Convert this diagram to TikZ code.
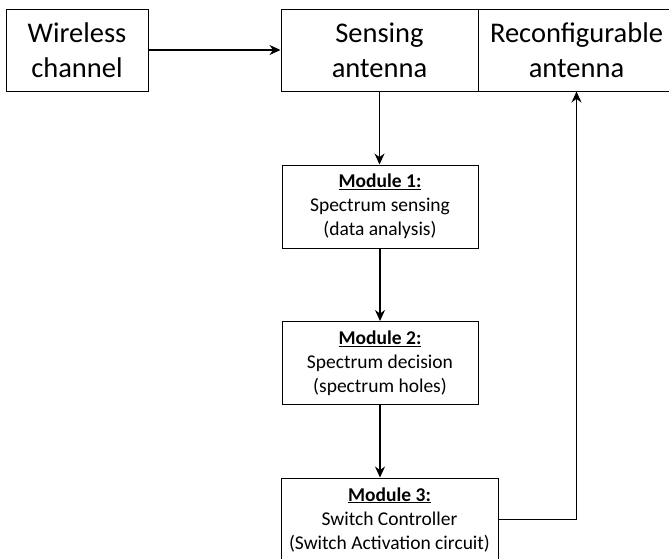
\documentclass[tikz,border=0pt]{standalone}
\usepackage{fontspec}
\setmainfont{Carlito}
\usetikzlibrary{arrows.meta}

\tikzset{
  bigbox/.style={draw, line width=1pt, minimum width=197pt, minimum height=82pt,
    align=center, inner sep=0pt, font=\fontsize{28.5}{35}\selectfont},
  modbox/.style={draw, line width=1pt, minimum width=196pt, minimum height=83pt,
    align=center, inner sep=0pt, font=\fontsize{19.5}{24}\selectfont},
  flow/.style={-{Stealth[length=11pt,width=10pt]}, line width=1.3pt}
}

\begin{document}
\begin{tikzpicture}[x=1pt,y=-1pt]
        \useasboundingbox (0,0) rectangle (669,558);
        \clip (0,0) rectangle (669,558);

        \node[bigbox, minimum width=142pt] (wireless) at (77,50) {Wireless\\channel};
        \node[bigbox] (sensing) at (379.5,50) {Sensing\\antenna};
        \node[bigbox] (reconf) at (576.5,50) {Reconfigurable\\antenna};

        \node[modbox] (mod1) at (380,206.5) {\underline{\textbf{Module 1:}}\\Spectrum sensing\\(data analysis)};
        \node[modbox] (mod2) at (380,363) {\underline{\textbf{Module 2:}}\\Spectrum decision\\(spectrum holes)};
        \node[modbox, minimum width=217pt] (mod3) at (389.5,519.5) {\underline{\textbf{Module 3:}}\\Switch Controller\\(Switch Activation circuit)};

        \draw[flow] (wireless) -- (sensing);
        \draw[flow] (sensing.south) -- (sensing.south |- mod1.north);
        \draw[flow] (mod1) -- (mod2);
        \draw[flow] (mod2.south) -- (mod2.south |- mod3.north);
%        \draw[flow] (mod3) -- (reconf);
        \draw[flow] (mod3.east) -| (reconf.south);

    \end{tikzpicture}
\end{document}
